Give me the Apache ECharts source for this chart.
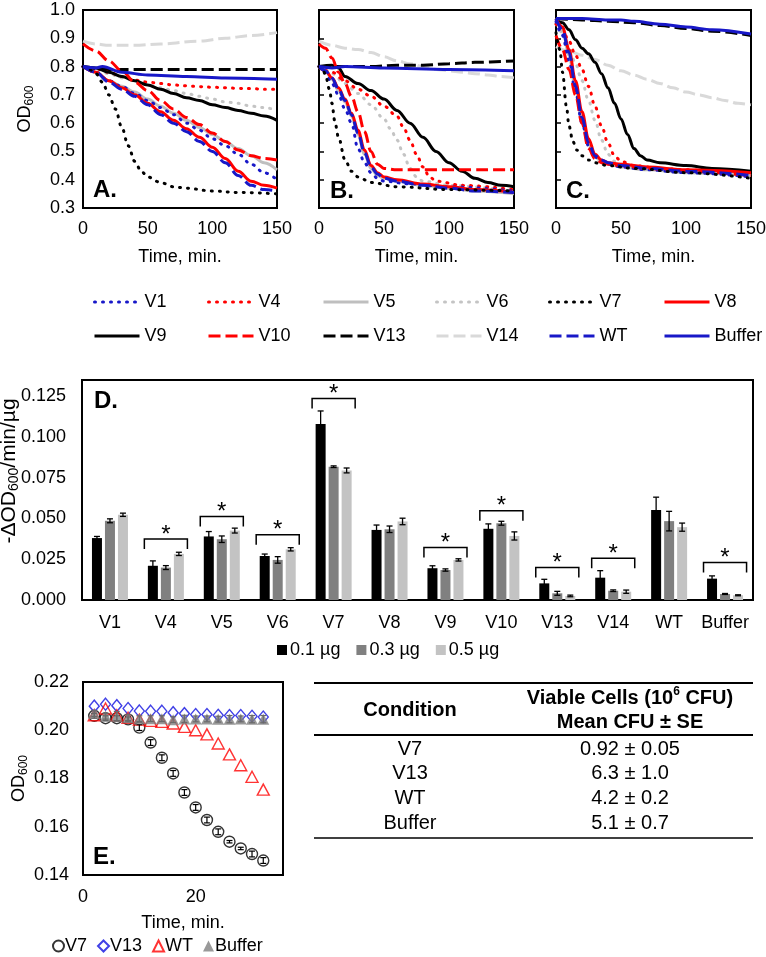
<!DOCTYPE html>
<html><head><meta charset="utf-8">
<script src="https://cdn.jsdelivr.net/npm/echarts@6.0.0/dist/echarts.min.js"></script>
<style>html,body{margin:0;padding:0;background:#fff}#c{width:766px;height:957px}</style>
</head><body><div id="c"></div>
<script>
// ---------- Panel A (time, OD600) ----------
const A_V1 = [[0,.80],[10,.78],[20,.75],[30,.73],[40,.705],[50,.68],[60,.655],[70,.63],[80,.60],[90,.575],[100,.545],[110,.52],[120,.49],[130,.455],[140,.425],[150,.40]];
const A_V4 = [[0,.80],[10,.792],[20,.78],[30,.765],[40,.752],[50,.745],[60,.74],[70,.735],[80,.732],[90,.729],[100,.727],[110,.725],[120,.723],[130,.722],[140,.72],[150,.72]];
const A_V5 = [[0,.80],[10,.78],[20,.75],[30,.73],[40,.71],[50,.685],[60,.66],[70,.635],[80,.61],[90,.585],[100,.56],[110,.535],[120,.51],[130,.485],[140,.46],[150,.435]];
const A_V6 = [[0,.80],[10,.79],[20,.775],[30,.76],[40,.75],[50,.735],[60,.725],[70,.715],[80,.705],[90,.695],[100,.685],[110,.675],[120,.67],[130,.66],[140,.655],[150,.645]];
const A_V7 = [[0,.80],[5,.79],[10,.775],[15,.745],[20,.70],[25,.65],[30,.585],[35,.52],[40,.465],[45,.43],[50,.41],[60,.39],[70,.375],[80,.37],[100,.36],[120,.355],[150,.35]];
const A_V8 = [[0,.80],[10,.78],[20,.75],[30,.725],[40,.70],[50,.67],[60,.64],[70,.61],[80,.58],[90,.55],[100,.515],[110,.475],[120,.43],[130,.395],[140,.38],[150,.37]];
const A_V9 = [[0,.80],[10,.795],[20,.78],[30,.765],[40,.75],[50,.735],[60,.72],[70,.705],[80,.69],[90,.68],[100,.665],[110,.655],[120,.645],[130,.635],[140,.625],[150,.61]];
const A_V10 = [[0,.88],[10,.855],[20,.82],[30,.785],[40,.745],[50,.715],[60,.68],[70,.65],[80,.62],[90,.595],[100,.565],[110,.535],[120,.505],[130,.485],[140,.475],[150,.47]];
const A_V13 = [[0,.80],[10,.79],[20,.79],[40,.79],[60,.79],[80,.79],[100,.79],[120,.79],[150,.79]];
const A_V14 = [[0,.89],[10,.88],[20,.875],[40,.875],[60,.88],[90,.89],[110,.90],[130,.91],[150,.92]];
const A_WT = [[0,.80],[10,.78],[20,.745],[30,.72],[40,.695],[50,.665],[60,.63],[70,.60],[80,.57],[90,.535],[100,.50],[110,.46],[120,.415],[130,.38],[140,.365],[150,.36]];
const A_Buffer = [[0,.80],[10,.795],[15,.80],[30,.78],[50,.77],[80,.765],[110,.76],[150,.755]];
// ---------- Panel B ----------
const B_V1 = [[0,.80],[5,.78],[10,.74],[15,.70],[20,.65],[25,.60],[30,.51],[35,.46],[40,.425],[45,.405],[50,.395],[70,.385],[100,.375],[150,.36]];
const B_V4 = [[0,.80],[10,.78],[20,.75],[30,.72],[40,.695],[50,.66],[60,.625],[65,.585],[70,.54],[75,.49],[80,.445],[85,.41],[90,.395],[110,.38],[150,.365]];
const B_V5 = [[0,.80],[5,.785],[10,.755],[15,.715],[20,.675],[25,.625],[30,.56],[35,.49],[40,.44],[45,.415],[50,.405],[60,.395],[80,.38],[100,.37],[120,.36],[150,.35]];
const B_V6 = [[0,.80],[10,.775],[20,.74],[30,.705],[40,.665],[50,.615],[55,.58],[60,.54],[65,.49],[70,.44],[75,.41],[80,.395],[100,.38],[150,.36]];
const B_V7 = [[0,.80],[3,.79],[5,.77],[8,.72],[10,.67],[12,.61],[15,.55],[20,.47],[25,.43],[30,.41],[40,.39],[60,.375],[100,.365],[150,.36]];
const B_V8 = [[0,.80],[5,.785],[10,.76],[15,.725],[20,.685],[25,.635],[30,.575],[35,.505],[40,.45],[45,.425],[50,.41],[60,.40],[80,.385],[100,.375],[120,.365],[150,.355]];
const B_V9 = [[0,.80],[10,.805],[15,.795],[20,.765],[30,.74],[40,.715],[50,.685],[60,.645],[70,.60],[80,.55],[90,.50],[100,.46],[110,.43],[120,.405],[130,.39],[140,.38],[150,.375]];
const B_V10 = [[0,.88],[5,.865],[10,.83],[15,.78],[20,.74],[25,.695],[30,.64],[35,.57],[40,.50],[45,.455],[50,.44],[60,.435],[150,.435]];
const B_V13 = [[0,.80],[20,.80],[40,.80],[60,.805],[80,.805],[100,.81],[120,.815],[150,.82]];
const B_V14 = [[0,.89],[10,.875],[20,.865],[30,.86],[40,.85],[50,.835],[60,.82],[70,.81],[80,.80],[90,.79],[100,.785],[110,.78],[120,.775],[130,.77],[140,.765],[150,.76]];
const B_WT = [[0,.80],[5,.785],[10,.76],[15,.72],[20,.68],[25,.63],[30,.565],[35,.495],[40,.445],[45,.42],[50,.405],[60,.395],[80,.38],[100,.37],[120,.36],[150,.355]];
const B_Buffer = [[0,.80],[10,.795],[20,.80],[50,.795],[100,.79],[150,.785]];
// ---------- Panel C ----------
const C_V1 = [[0,.96],[5,.91],[10,.82],[15,.71],[20,.60],[25,.52],[30,.48],[35,.465],[40,.455],[50,.445],[70,.435],[100,.425],[150,.41]];
const C_V4 = [[0,.95],[5,.93],[10,.89],[15,.84],[20,.79],[25,.73],[30,.66],[35,.59],[40,.53],[45,.485],[50,.465],[60,.45],[80,.44],[100,.435],[120,.43],[150,.42]];
const C_V5 = [[0,.97],[5,.93],[10,.84],[15,.72],[20,.61],[25,.525],[30,.48],[35,.465],[40,.455],[50,.445],[70,.435],[100,.425],[150,.415]];
const C_V6 = [[0,.95],[5,.92],[10,.87],[15,.81],[20,.75],[25,.68],[30,.61],[35,.54],[40,.49],[45,.465],[50,.455],[60,.445],[80,.435],[100,.43],[150,.415]];
const C_V7 = [[0,.92],[3,.86],[5,.78],[8,.66],[10,.59],[13,.535],[16,.505],[20,.485],[25,.47],[30,.46],[40,.45],[60,.44],[100,.425],[150,.405]];
const C_V8 = [[0,.97],[5,.94],[10,.86],[15,.75],[20,.64],[25,.545],[30,.49],[35,.47],[40,.46],[50,.455],[70,.445],[100,.435],[150,.425]];
const C_V9 = [[0,.965],[5,.955],[10,.93],[15,.895],[20,.865],[25,.845],[30,.815],[35,.775],[40,.725],[45,.67],[50,.615],[55,.56],[60,.51],[65,.485],[70,.47],[80,.46],[100,.45],[120,.44],[150,.43]];
const C_V10 = [[0,.91],[5,.86],[10,.79],[15,.70],[20,.60],[25,.51],[30,.475],[35,.46],[40,.455],[50,.45],[70,.44],[100,.43],[150,.415]];
const C_V13 = [[0,.97],[20,.965],[40,.96],[60,.955],[80,.945],[100,.935],[120,.925],[150,.91]];
const C_V14 = [[0,.87],[10,.855],[20,.84],[30,.825],[40,.805],[50,.785],[60,.77],[70,.755],[80,.74],[90,.725],[100,.71],[110,.70],[120,.69],[130,.68],[140,.67],[150,.665]];
const C_WT = [[0,.97],[5,.93],[10,.85],[15,.73],[20,.62],[25,.53],[30,.485],[35,.47],[40,.46],[50,.45],[70,.44],[100,.43],[150,.415]];
const C_Buffer = [[0,.97],[20,.97],[40,.965],[50,.965],[60,.96],[80,.95],[100,.94],[120,.93],[150,.915]];
const timeTicks = [0, 50, 100, 150];
// ---------- Panel D ----------
const dCats = ['V1','V4','V5','V6','V7','V8','V9','V10','V13','V14','WT','Buffer'];
const doseNames = ['0.1 µg','0.3 µg','0.5 µg'];
const d01 = [0.038,0.021,0.039,0.027,0.108,0.043,0.0195,0.0437,0.0102,0.0137,0.0553,0.0131];
const d03 = [0.0486,0.0199,0.0373,0.0246,0.0818,0.0434,0.0184,0.0471,0.0041,0.0057,0.0484,0.0037];
const d05 = [0.0523,0.0283,0.0426,0.0311,0.0795,0.0482,0.0246,0.0393,0.0025,0.0051,0.0447,0.0029];
const e01 = [0.001,0.003,0.003,0.0012,0.008,0.003,0.0015,0.003,0.0025,0.0043,0.0078,0.0017];
const e03 = [0.0012,0.0012,0.002,0.002,0.0005,0.002,0.0007,0.0012,0.0012,0.0005,0.006,0.0003];
const e05 = [0.001,0.001,0.0015,0.001,0.0015,0.002,0.0007,0.0025,0.0005,0.001,0.0025,0.0003];
const sigCats = ['V4','V5','V6','V7','V9','V10','V13','V14','Buffer'];
const sigLevels = [0.0375,0.0512,0.040,0.1236,0.0322,0.0547,0.0199,0.0256,0.0230];
// ---------- Panel E ----------
const eTime = [2,4,6,8,10,12,14,16,18,20,22,24,26,28,30,32];
const eV7 = [0.206,0.205,0.205,0.2045,0.2011,0.1949,0.1886,0.1821,0.1742,0.168,0.1628,0.1579,0.1538,0.151,0.1487,0.146];
const eV7err = [0.001,0.001,0.001,0.001,0.0012,0.0012,0.0012,0.0012,0.0012,0.0012,0.0012,0.0012,0.0005,0.0005,0.0012,0.0012];
const eV13 = [0.210,0.2108,0.2102,0.209,0.208,0.2079,0.2079,0.2073,0.2069,0.2065,0.2065,0.2062,0.2061,0.2061,0.2058,0.2055];
const eWT = [0.2062,0.209,0.2062,0.2052,0.2044,0.2039,0.2035,0.2028,0.2014,0.200,0.1983,0.1945,0.190,0.1855,0.1807,0.1754];
const eBuffer = [0.2069,0.2058,0.2058,0.2052,0.2048,0.2048,0.2048,0.2044,0.2047,0.2047,0.2047,0.2046,0.2046,0.2047,0.2046,0.2046];
const eBufErr = [0.0012,0.0012,0.002,0.0012,0.0012,0.0012,0.0012,0.0012,0.0015,0.0012,0.0012,0.0012,0.0015,0.0012,0.0015,0.0015];
// ---------- Table ----------
const tableConditions = ['V7','V13','WT','Buffer'];
const tableValues = ['0.92 ± 0.05','6.3 ± 1.0','4.2 ± 0.2','5.1 ± 0.7'];

// =========== build ===========
const FONT = "'Liberation Sans', Arial, Helvetica, sans-serif";
const BLUE = '#1818C8', RED = '#FF0000';
const DOT = [1, 7], DASH = [12, 5];
const lineLook = {
  V1:{c:BLUE,t:DOT}, V4:{c:RED,t:DOT}, V5:{c:'#BFBFBF',t:'solid'}, V6:{c:'#C4C4C4',t:DOT},
  V7:{c:'#000',t:DOT}, V8:{c:RED,t:'solid'}, V9:{c:'#000',t:'solid'}, V10:{c:RED,t:DASH},
  V13:{c:'#000',t:DASH}, V14:{c:'#D9D9D9',t:DASH}, WT:{c:BLUE,t:DASH}, Buffer:{c:BLUE,t:'solid'}
};
const panels = [
  {V1:A_V1,V4:A_V4,V5:A_V5,V6:A_V6,V7:A_V7,V8:A_V8,V9:A_V9,V10:A_V10,V13:A_V13,V14:A_V14,WT:A_WT,Buffer:A_Buffer},
  {V1:B_V1,V4:B_V4,V5:B_V5,V6:B_V6,V7:B_V7,V8:B_V8,V9:B_V9,V10:B_V10,V13:B_V13,V14:B_V14,WT:B_WT,Buffer:B_Buffer},
  {V1:C_V1,V4:C_V4,V5:C_V5,V6:C_V6,V7:C_V7,V8:C_V8,V9:C_V9,V10:C_V10,V13:C_V13,V14:C_V14,WT:C_WT,Buffer:C_Buffer}
];
const drawOrder = ['V14','V13','V6','V4','V9','V5','V1','V10','V8','WT','V7','Buffer'];
const legendRows = [['V1','V4','V5','V6','V7','V8'],['V9','V10','V13','V14','WT','Buffer']];
const legendCols = [93,207,322,435,548,663];
const legendTops = [293,327];

const txt = {fontSize:18, color:'#000', fontFamily:FONT};
const gridBase = {show:true, borderColor:'#000', borderWidth:2, backgroundColor:'transparent', containLabel:false, outerBoundsMode:'none'};
const grid = [
  {left:83, top:10, width:194, height:198},
  {left:319, top:10, width:195, height:198},
  {left:556, top:10, width:195, height:198},
  {left:82, top:380, width:671, height:220},
  {left:83, top:682, width:200, height:193}
].map(g => Object.assign({}, gridBase, g));

const subRich = {s:{fontSize:12, fontFamily:FONT, color:'#000', verticalAlign:'bottom'}};
const subRichD = {s:{fontSize:14, fontFamily:FONT, color:'#000', verticalAlign:'bottom'}};
const xAxis = [], yAxis = [];
for (let i = 0; i < 3; i++) {
  xAxis.push({type:'value', gridIndex:i, min:timeTicks[0], max:timeTicks[timeTicks.length-1], interval:timeTicks[1]-timeTicks[0],
    axisLine:{show:false}, axisTick:{show:false}, splitLine:{show:false},
    axisLabel:Object.assign({margin:12}, txt), nameMoveOverlap:false,
    name:'Time, min.', nameLocation:'middle', nameGap:40, nameTextStyle:txt});
  yAxis.push({type:'value', gridIndex:i, min:0.3, max:1.0, interval:0.1,
    axisLine:{show:false}, splitLine:{show:false}, nameMoveOverlap:false,
    axisTick: i === 0 ? {show:false} : {show:true, inside:true, length:5, lineStyle:{color:'#000', width:1.5}},
    axisLabel: i === 0 ? Object.assign({margin:8, formatter:v => v.toFixed(1)}, txt) : {show:false},
    name: i === 0 ? 'OD{s|600}' : '', nameLocation:'middle', nameRotate:90, nameGap:47,
    nameTextStyle:Object.assign({lineHeight:22, rich:subRich}, txt)});
}
xAxis.push({type:'category', gridIndex:3, data:dCats, axisLine:{show:false}, axisTick:{show:false},
  axisLabel:Object.assign({margin:14, interval:0}, txt)});
yAxis.push({type:'value', gridIndex:3, min:0, max:0.135, interval:0.025, axisLine:{show:false}, axisTick:{show:false}, splitLine:{show:false},
  axisLabel:Object.assign({margin:16, showMaxLabel:false, formatter:v => v.toFixed(3)}, txt),
  nameMoveOverlap:false,
  name:'-ΔOD{s|600}/min/µg', nameLocation:'middle', nameRotate:90, nameGap:61,
  nameTextStyle:{fontSize:21, color:'#000', fontFamily:FONT, lineHeight:24, rich:subRichD, padding:[0,0,0,38]}});
xAxis.push({type:'value', gridIndex:4, min:0, max:35.5, interval:20, axisLine:{show:false}, axisTick:{show:false}, splitLine:{show:false},
  axisLabel:Object.assign({margin:13, showMaxLabel:false}, txt), nameMoveOverlap:false,
  name:'Time, min.', nameLocation:'middle', nameGap:39, nameTextStyle:txt});
yAxis.push({type:'value', gridIndex:4, min:0.14, max:0.22, interval:0.02, axisLine:{show:false}, axisTick:{show:false}, splitLine:{show:false},
  axisLabel:Object.assign({margin:14, formatter:v => v.toFixed(2)}, txt), nameMoveOverlap:false,
  name:'OD{s|600}', nameLocation:'middle', nameRotate:90, nameGap:53,
  nameTextStyle:Object.assign({lineHeight:22, rich:subRich}, txt)});

const series = [];
panels.forEach((pd, i) => {
  drawOrder.forEach(name => {
    const lk = lineLook[name];
    series.push({type:'line', name, xAxisIndex:i, yAxisIndex:i, data:pd[name], symbol:'none', showSymbol:false,
      smooth:0.35, smoothMonotone:'x', silent:true,
      lineStyle:{color:lk.c, width:3, type:lk.t, cap: lk.t === DOT ? 'round' : 'butt'},
      itemStyle:{color:lk.c}});
  });
});

// Panel D bars + error bars
const doseColors = ['#000000','#808080','#C3C3C3'];
const BAR_W = 10, BAR_STEP = 13;
[d01, d03, d05].forEach((vals, k) => {
  series.push({type:'bar', name:doseNames[k], xAxisIndex:3, yAxisIndex:3, data:vals, barWidth:BAR_W, barGap:'30%',
    itemStyle:{color:doseColors[k]}, silent:true, z:2});
});
function errRender(k) {
  return function (params, api) {
    const ci = api.value(0), v = api.value(1), e = api.value(2);
    const top = api.coord([ci, v + e]), bot = api.coord([ci, v - e]);
    const x = top[0] + (k - 1) * BAR_STEP;
    const st = {stroke:'#000', lineWidth:1.3};
    return {type:'group', children:[
      {type:'line', shape:{x1:x, y1:top[1], x2:x, y2:bot[1]}, style:st},
      {type:'line', shape:{x1:x-3, y1:top[1], x2:x+3, y2:top[1]}, style:st},
      {type:'line', shape:{x1:x-3, y1:bot[1], x2:x+3, y2:bot[1]}, style:st}
    ]};
  };
}
[[d01,e01],[d03,e03],[d05,e05]].forEach((pair, k) => {
  series.push({type:'custom', xAxisIndex:3, yAxisIndex:3, silent:true, z:5,
    data:dCats.map((c, i) => [i, pair[0][i], pair[1][i]]), renderItem:errRender(k)});
});
series.push({type:'custom', xAxisIndex:3, yAxisIndex:3, silent:true, z:6,
  data:sigCats.map((c, i) => [dCats.indexOf(c), sigLevels[i]]),
  renderItem:function (params, api) {
    const p = api.coord([api.value(0), api.value(1)]);
    const half = api.size([1, 0])[0] * 0.385;
    return {type:'group', children:[
      {type:'polyline', shape:{points:[[p[0]-half, p[1]+10],[p[0]-half, p[1]],[p[0]+half, p[1]],[p[0]+half, p[1]+10]]},
        style:{stroke:'#000', lineWidth:1.5, fill:null}},
      {type:'text', style:{text:'*', x:p[0], y:p[1]-4, align:'center', verticalAlign:'middle', fontSize:24, fontFamily:FONT, fill:'#000'}}
    ]};
  }});

// Panel E
function pts(vals) { return eTime.map((t, i) => [t, vals[i]]); }
function eErrRender(color) {
  return function (params, api) {
    const t = api.value(0), v = api.value(1), e = api.value(2);
    const top = api.coord([t, v + e]), bot = api.coord([t, v - e]);
    const st = {stroke:color, lineWidth:1.2};
    return {type:'group', children:[
      {type:'line', shape:{x1:top[0], y1:top[1], x2:top[0], y2:bot[1]}, style:st},
      {type:'line', shape:{x1:top[0]-3, y1:top[1], x2:top[0]+3, y2:top[1]}, style:st},
      {type:'line', shape:{x1:top[0]-3, y1:bot[1], x2:top[0]+3, y2:bot[1]}, style:st}
    ]};
  };
}
series.push({type:'scatter', name:'E-V7', xAxisIndex:4, yAxisIndex:4, data:pts(eV7), symbol:'circle', symbolSize:11, silent:true, z:3,
  itemStyle:{color:'rgba(255,255,255,0)', borderColor:'#000', borderWidth:1.4}});
series.push({type:'custom', xAxisIndex:4, yAxisIndex:4, silent:true, z:4,
  data:eTime.map((t, i) => [t, eV7[i], eV7err[i]]), renderItem:eErrRender('#000')});
series.push({type:'scatter', name:'E-V13', xAxisIndex:4, yAxisIndex:4, data:pts(eV13), symbol:'diamond', symbolSize:[10,12], silent:true, z:3,
  itemStyle:{color:'rgba(255,255,255,0)', borderColor:'#1010E0', borderWidth:1.4}});
series.push({type:'scatter', name:'E-WT', xAxisIndex:4, yAxisIndex:4, data:pts(eWT), symbol:'triangle', symbolSize:[12,11], silent:true, z:3,
  itemStyle:{color:'rgba(255,255,255,0)', borderColor:'#FF0000', borderWidth:1.4}});
series.push({type:'scatter', name:'E-Buffer', xAxisIndex:4, yAxisIndex:4, data:pts(eBuffer), symbol:'triangle', symbolSize:[12,11], silent:true, z:5,
  itemStyle:{color:'#808080'}});
series.push({type:'custom', xAxisIndex:4, yAxisIndex:4, silent:true, z:6,
  data:eTime.map((t, i) => [t, eBuffer[i], eBufErr[i]]), renderItem:eErrRender('#6A6A6A')});

// Legends
const legend = [];
legendRows.forEach((row, r) => row.forEach((name, c) => {
  legend.push({data:[name], left:legendCols[c], top:legendTops[r], padding:0, itemGap:0, itemWidth:45, itemHeight:14,
    selectedMode:false, textStyle:txt, lineStyle:{width:3}, itemStyle:{opacity:0, color:'rgba(0,0,0,0)', borderWidth:0}});
}));
legend.push({data:doseNames, left:277, top:641, padding:0, icon:'rect', itemWidth:10, itemHeight:10, itemGap:16,
  selectedMode:false, textStyle:Object.assign({padding:[0,0,0,-2]}, txt)});
legend.push({data:['E-V7','E-V13','E-WT','E-Buffer'], formatter:n => n.slice(2), left:52, top:937, padding:0,
  itemWidth:11, itemHeight:11, itemGap:10, selectedMode:false, textStyle:Object.assign({padding:[0,0,0,-4]}, txt)});

// Panel letters and table (graphic)
const graphic = [];
[['A.',93,190],['B.',330,191],['C.',566,191],['D.',94,401],['E.',93,857]].forEach(p => {
  graphic.push({type:'text', silent:true, style:{text:p[0], x:p[1], y:p[2], verticalAlign:'middle', fontSize:24, fontWeight:'bold', fontFamily:FONT, fill:'#000'}});
});
const TBL_L = 314, TBL_R = 753, COL1 = 410, COL2 = 630;
[[683,2],[735,2],[838,1.5]].forEach(l => graphic.push({type:'line', silent:true, shape:{x1:TBL_L, y1:l[0], x2:TBL_R, y2:l[0]}, style:{stroke:'#000', lineWidth:l[1]}}));
const hdr = {fontSize:20, fontWeight:'bold', fontFamily:FONT, fill:'#000', align:'center', verticalAlign:'middle'};
graphic.push({type:'text', silent:true, style:Object.assign({text:'Condition', x:COL1, y:710}, hdr)});
graphic.push({type:'text', silent:true, style:Object.assign({text:'Viable Cells (10{p|6} CFU)', x:COL2, y:698, lineHeight:24,
  rich:{p:{fontSize:12, fontWeight:'bold', fontFamily:FONT, verticalAlign:'top'}}}, hdr)});
graphic.push({type:'text', silent:true, style:Object.assign({text:'Mean CFU ± SE', x:COL2, y:722}, hdr)});
tableConditions.forEach((c, i) => {
  const y = 749 + i * 24.7;
  const st = {fontSize:20, fontFamily:FONT, fill:'#000', align:'center', verticalAlign:'middle'};
  graphic.push({type:'text', silent:true, style:Object.assign({text:c, x:COL1, y}, st)});
  graphic.push({type:'text', silent:true, style:Object.assign({text:tableValues[i], x:COL2, y}, st)});
});

const chart = echarts.init(document.getElementById('c'), null, {renderer:'canvas'});
chart.setOption({animation:false, backgroundColor:'#fff', textStyle:{fontFamily:FONT}, grid, xAxis, yAxis, legend, series, graphic});
</script></body></html>
